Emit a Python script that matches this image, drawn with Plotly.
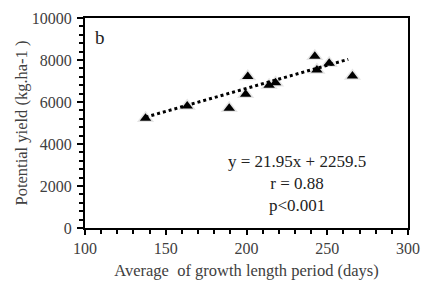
import plotly.graph_objects as go

growth_days = [137.5, 163.3, 189.3, 199.5, 200.8, 214.0, 218.0, 242.3, 243.6, 251.2, 265.6]
potential_yield = [5230, 5810, 5700, 6370, 7210, 6800, 6920, 8180, 7520, 7840, 7240]

slope = 21.95
intercept = 2259.5
fit_x = [137.5, 263.0]
fit_y = [slope * v + intercept for v in fit_x]

x_ticks = [100, 150, 200, 250, 300]
y_ticks = [0, 2000, 4000, 6000, 8000, 10000]
y_tick_text = [str(v) for v in y_ticks]

serif = "'Liberation Serif', 'Times New Roman', Times, serif"

fig = go.Figure()
# light halo behind markers
fig.add_trace(go.Scatter(x=growth_days, y=potential_yield, mode="markers",
                         marker=dict(symbol="triangle-up", size=15, color="#e6e6e6"),
                         hoverinfo="skip", showlegend=False))
fig.add_trace(go.Scatter(x=fit_x, y=fit_y, mode="lines",
                         line=dict(color="black", width=3, dash="dot"),
                         showlegend=False))
fig.add_trace(go.Scatter(x=growth_days, y=potential_yield, mode="markers",
                         marker=dict(symbol="triangle-up", size=10, color="black"),
                         showlegend=False))

fig.update_layout(
    width=425, height=283,
    margin=dict(l=85, r=17, t=18, b=55),
    paper_bgcolor="white", plot_bgcolor="white",
    font=dict(family=serif, color="#404040", size=16),
    xaxis=dict(range=[100, 300], tickvals=x_ticks, showgrid=False, zeroline=False,
               automargin=False,
               showline=True, linecolor="black", linewidth=2, mirror=True,
               ticks="outside", ticklen=5, tickwidth=1.5, tickcolor="black",
               minor=dict(dtick=10, ticks="outside", ticklen=4, tickcolor="black", tickwidth=1.5),
               tickfont=dict(family=serif, size=16, color="#404040"),
               title=dict(text="Average  of growth length period (days)",
                          font=dict(family=serif, size=16.5, color="#404040"), standoff=8)),
    yaxis=dict(range=[0, 10000], tickvals=y_ticks, ticktext=y_tick_text,
               showgrid=False, zeroline=False, automargin=False,
               showline=True, linecolor="black", linewidth=2, mirror=True,
               ticks="outside", ticklen=6, tickwidth=1.5, tickcolor="black",
               ticklabelstandoff=2,
               minor=dict(dtick=400, ticks="outside", ticklen=4, tickcolor="black", tickwidth=1.5),
               tickfont=dict(family=serif, size=16, color="#404040"),
               title=dict(text="Potential yield (kg.ha-1 )",
                          font=dict(family=serif, size=16.5, color="#404040"), standoff=0)),
    annotations=[
        dict(x=0.045, y=0.905, xref="paper", yref="paper", text="b", showarrow=False,
             xanchor="center", yanchor="middle", font=dict(family=serif, size=19, color="#222222")),
        dict(x=231, y=2140, xref="x", yref="y", showarrow=False, xanchor="center", yanchor="middle",
             text="y = 21.95x + 2259.5<br>r = 0.88<br>p<0.001",
             font=dict(family=serif, size=17, color="#222222")),
    ],
)

fig.write_html(
    "out.html",
    config={"displayModeBar": False},
    post_script="document.body.style.margin='0';document.documentElement.style.overflow='hidden';document.body.style.overflow='hidden';",
)
